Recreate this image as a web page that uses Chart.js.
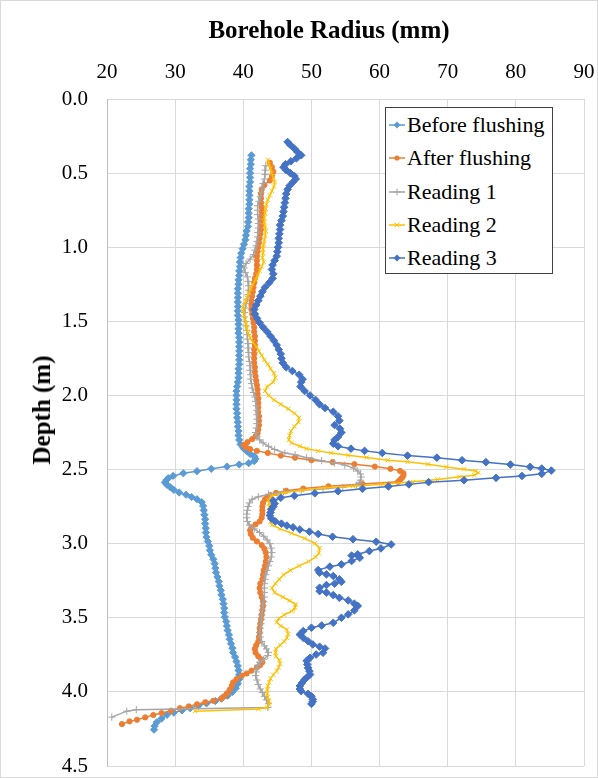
<!DOCTYPE html>
<html>
<head>
<meta charset="utf-8">
<title>Borehole radius profiles</title>
<script src="https://cdn.jsdelivr.net/npm/chart.js@4/dist/chart.umd.min.js"></script>
<style>
  html, body { margin: 0; padding: 0; background: #fff; }
  #wrap { position: relative; width: 598px; height: 778px; overflow: hidden; }
  #chart { position: absolute; left: 0; top: 0; }
  .axis-title {
    position: absolute; font-family: "Liberation Serif", "Times New Roman", serif;
    font-weight: bold; font-size: 25px; line-height: 28px; color: #000; white-space: nowrap;
  }
  #xTitle { left: 329px; top: 16px; transform: translateX(-50%); }
  #yTitle { left: 42px; top: 410px; transform: translate(-50%, -50%) rotate(-90deg); }
  #legend {
    position: absolute; left: 385px; top: 107px; width: 168px; height: 167px;
    box-sizing: border-box; border: 1px solid #404040; background: #fff;
    font-family: "Liberation Serif", "Times New Roman", serif; font-size: 22px; color: #000;
  }
  #legend .item { position: absolute; left: 2px; height: 32px; display: flex; align-items: center; white-space: nowrap; }
  #legend .item svg { margin-right: 1px; flex: none; }
</style>
</head>
<body>
<div id="wrap">
  <canvas id="chart" width="598" height="778"></canvas>
  <div class="axis-title" id="xTitle">Borehole Radius (mm)</div>
  <div class="axis-title" id="yTitle">Depth (m)</div>
  <div id="legend"></div>
</div>
<script>
// Caliper log: [depth (m), radius (mm)] for each survey
const beforeFlushing = [
  [0.38,41.2],[0.41,41.1],[0.44,41.1],[0.47,41.0],[0.50,41.0],[0.53,41.0],[0.56,41.0],[0.59,40.9],[0.62,40.9],[0.65,40.9],
  [0.68,40.9],[0.71,40.9],[0.74,40.8],[0.77,40.8],[0.80,40.8],[0.83,40.7],[0.86,40.7],[0.89,40.5],[0.92,40.4],[0.95,40.3],
  [0.98,40.1],[1.01,39.9],[1.04,39.7],[1.07,39.6],[1.10,39.5],[1.13,39.5],[1.16,39.4],[1.19,39.4],[1.22,39.3],[1.25,39.3],
  [1.28,39.2],[1.31,39.2],[1.34,39.2],[1.37,39.2],[1.40,39.2],[1.43,39.2],[1.46,39.2],[1.49,39.3],[1.52,39.3],[1.55,39.3],
  [1.58,39.3],[1.61,39.4],[1.64,39.4],[1.67,39.4],[1.70,39.4],[1.73,39.4],[1.76,39.4],[1.79,39.4],[1.82,39.3],[1.85,39.3],
  [1.88,39.3],[1.91,39.2],[1.94,39.1],[1.97,39.0],[2.00,39.0],[2.03,39.0],[2.06,39.0],[2.09,39.0],[2.12,39.1],[2.15,39.1],
  [2.18,39.2],[2.21,39.2],[2.24,39.3],[2.27,39.3],[2.30,39.4],[2.33,39.6],[2.355,40.0],[2.375,40.5],[2.395,41.0],[2.41,41.6],
  [2.428,41.8],[2.443,41.6],[2.457,40.8],[2.466,39.4],[2.48,37.6],[2.495,35.3],[2.511,33.2],[2.525,31.2],[2.543,29.7],[2.558,29.0],
  [2.572,28.7],[2.587,28.5],[2.603,28.8],[2.62,29.3],[2.637,29.8],[2.655,30.6],[2.67,31.6],[2.685,32.4],[2.70,33.2],[2.72,33.9],
  [2.745,34.1],[2.775,34.2],[2.805,34.3],[2.835,34.4],[2.865,34.4],[2.895,34.5],[2.925,34.5],[2.955,34.6],[2.985,34.8],[3.015,35.0],
  [3.045,35.1],[3.075,35.3],[3.105,35.6],[3.135,35.8],[3.165,35.9],[3.195,36.0],[3.225,36.2],[3.255,36.4],[3.285,36.5],[3.315,36.7],
  [3.345,36.8],[3.375,37.0],[3.405,37.1],[3.435,37.2],[3.465,37.2],[3.495,37.3],[3.525,37.5],[3.555,37.6],[3.585,37.7],[3.615,37.9],
  [3.645,38.0],[3.675,38.2],[3.705,38.4],[3.735,38.5],[3.765,38.8],[3.795,39.0],[3.825,39.2],[3.855,39.3],[3.885,39.4],[3.915,39.4],
  [3.945,39.2],[3.975,38.9],[4.00,38.4],[4.025,37.7],[4.045,36.8],[4.062,35.9],[4.078,34.6],[4.094,33.4],[4.11,32.2],[4.125,31.0],
  [4.14,29.8],[4.155,28.8],[4.18,28.0],[4.205,27.3],[4.23,27.0],[4.255,26.9]
];

const afterFlushing = [
  [0.43,43.9],[0.46,44.2],[0.49,44.4],[0.52,44.2],[0.55,43.9],[0.58,43.1],[0.61,42.7],[0.64,42.6],[0.67,42.6],[0.70,42.6],
  [0.73,42.7],[0.76,42.7],[0.79,42.7],[0.82,42.7],[0.85,42.6],[0.88,42.6],[0.91,42.5],[0.94,42.4],[0.97,42.3],[1.00,42.2],
  [1.03,42.1],[1.06,42.0],[1.09,42.0],[1.12,42.0],[1.15,42.0],[1.18,41.9],[1.21,41.7],[1.24,41.6],[1.27,41.5],[1.30,41.4],
  [1.33,41.3],[1.36,41.2],[1.39,41.2],[1.42,41.2],[1.45,41.3],[1.48,41.4],[1.51,41.5],[1.54,41.6],[1.57,41.6],[1.60,41.7],
  [1.63,41.7],[1.66,41.7],[1.69,41.6],[1.72,41.6],[1.75,41.6],[1.78,41.6],[1.81,41.7],[1.84,41.7],[1.87,41.8],[1.90,41.9],
  [1.93,42.0],[1.96,42.1],[1.99,42.1],[2.02,42.2],[2.05,42.2],[2.08,42.2],[2.11,42.2],[2.14,42.3],[2.17,42.3],[2.20,42.3],
  [2.23,42.2],[2.255,42.1],[2.275,41.8],[2.295,41.3],[2.315,40.6],[2.335,40.1],[2.35,40.4],[2.362,41.0],[2.374,42.0],[2.388,43.6],
  [2.406,45.5],[2.42,47.6],[2.437,50.0],[2.45,53.1],[2.464,56.3],[2.48,59.3],[2.495,61.6],[2.509,63.0],[2.525,63.5],[2.54,63.5],
  [2.555,63.3],[2.57,63.0],[2.583,62.7],[2.598,57.5],[2.613,52.5],[2.628,48.8],[2.643,46.3],[2.658,44.8],[2.672,44.0],[2.686,43.6],
  [2.70,43.2],[2.725,42.9],[2.75,42.8],[2.775,42.8],[2.80,42.8],[2.825,42.7],[2.85,42.4],[2.87,41.8],[2.89,41.2],[2.91,41.0],
  [2.935,41.1],[2.96,41.4],[2.985,42.0],[3.01,42.7],[3.035,43.1],[3.06,43.3],[3.09,43.4],[3.12,43.3],[3.15,43.2],[3.18,43.0],
  [3.21,42.9],[3.24,42.8],[3.27,42.5],[3.30,42.4],[3.33,42.5],[3.36,42.7],[3.39,42.9],[3.42,42.9],[3.45,42.8],[3.48,42.7],
  [3.51,42.6],[3.54,42.5],[3.57,42.4],[3.60,42.4],[3.63,42.3],[3.66,42.2],[3.685,41.9],[3.71,41.7],[3.735,41.8],[3.76,42.2],
  [3.78,42.6],[3.80,42.8],[3.818,42.5],[3.835,42.0],[3.857,41.2],[3.876,40.5],[3.89,39.8],[3.914,39.0],[3.936,38.5],[3.96,38.3],
  [3.985,38.0],[4.01,37.6],[4.03,37.2],[4.045,36.8],[4.06,35.6],[4.07,34.4],[4.084,33.2],[4.098,32.0],[4.11,30.7],[4.127,29.4],
  [4.143,28.0],[4.156,26.8],[4.172,25.6],[4.188,24.4],[4.199,23.3],[4.217,22.2]
];

const reading1 = [
  [0.45,43.3],[0.48,43.2],[0.51,43.2],[0.54,43.1],[0.57,42.9],[0.60,42.8],[0.63,42.6],[0.66,42.5],[0.69,42.3],[0.72,42.1],
  [0.75,42.1],[0.78,42.1],[0.81,42.2],[0.84,42.2],[0.87,42.2],[0.90,42.1],[0.93,42.1],[0.96,42.0],[0.99,41.9],[1.02,41.7],
  [1.05,41.5],[1.08,41.0],[1.11,40.4],[1.14,40.1],[1.17,40.3],[1.20,40.6],[1.23,40.7],[1.26,40.8],[1.29,40.8],[1.32,40.7],
  [1.35,40.6],[1.38,40.4],[1.41,40.3],[1.44,40.2],[1.47,40.2],[1.50,40.3],[1.53,40.4],[1.56,40.5],[1.59,40.6],[1.62,40.6],
  [1.65,40.7],[1.68,40.7],[1.71,40.8],[1.74,40.8],[1.77,40.9],[1.80,41.0],[1.83,41.0],[1.86,41.1],[1.89,41.1],[1.92,41.2],
  [1.95,41.3],[1.98,41.5],[2.01,41.7],[2.04,41.8],[2.07,41.9],[2.10,42.0],[2.13,42.0],[2.16,42.0],[2.19,42.0],[2.22,41.9],
  [2.25,41.8],[2.275,42.0],[2.30,42.4],[2.32,42.9],[2.343,43.7],[2.365,44.6],[2.388,46.1],[2.40,47.6],[2.42,49.3],[2.44,51.5],
  [2.455,53.4],[2.47,54.9],[2.49,56.2],[2.51,56.8],[2.53,57.2],[2.55,57.3],[2.572,57.2],[2.59,57.0],[2.605,56.6],[2.62,54.6],
  [2.63,51.7],[2.64,48.5],[2.65,45.9],[2.666,43.7],[2.684,42.2],[2.70,41.3],[2.725,40.9],[2.75,40.7],[2.775,40.6],[2.80,40.5],
  [2.825,40.5],[2.85,40.6],[2.875,40.9],[2.90,41.6],[2.925,42.4],[2.95,43.0],[2.975,43.5],[3.00,43.9],[3.03,44.1],[3.06,44.2],
  [3.09,44.1],[3.12,43.9],[3.15,43.7],[3.18,43.5],[3.21,43.3],[3.24,43.2],[3.27,43.1],[3.30,43.1],[3.33,43.1],[3.36,43.1],
  [3.39,43.0],[3.42,42.9],[3.45,42.8],[3.48,42.7],[3.51,42.7],[3.54,42.6],[3.57,42.5],[3.60,42.4],[3.63,42.5],[3.66,42.7],
  [3.69,43.1],[3.71,43.4],[3.733,43.7],[3.755,43.6],[3.78,43.0],[3.80,42.4],[3.82,42.1],[3.84,42.0],[3.865,41.9],[3.89,41.8],
  [3.92,42.0],[3.95,42.2],[3.98,42.5],[4.005,42.8],[4.03,43.1],[4.055,43.4],[4.08,43.7],[4.105,43.6],[4.12,24.3],[4.13,22.9],
  [4.17,20.7]
];

const reading2 = [
  [0.41,43.6],[0.44,43.8],[0.47,44.0],[0.50,44.2],[0.53,44.4],[0.56,44.6],[0.59,44.5],[0.62,44.2],[0.65,43.9],[0.68,43.6],
  [0.71,43.4],[0.74,43.3],[0.77,43.2],[0.80,43.1],[0.83,43.1],[0.86,43.2],[0.89,43.3],[0.92,43.2],[0.95,43.1],[0.98,43.0],
  [1.01,42.9],[1.04,42.9],[1.07,42.8],[1.10,43.0],[1.13,42.7],[1.16,42.4],[1.19,42.1],[1.22,41.8],[1.25,41.4],[1.28,41.1],
  [1.31,40.8],[1.34,40.5],[1.37,40.3],[1.40,40.0],[1.43,40.0],[1.46,40.1],[1.49,40.3],[1.52,40.4],[1.55,40.5],[1.58,40.7],
  [1.61,41.0],[1.64,41.4],[1.67,41.9],[1.70,42.3],[1.73,42.7],[1.76,43.1],[1.79,43.6],[1.82,44.0],[1.85,44.5],[1.88,44.7],
  [1.91,44.4],[1.94,43.5],[1.97,43.2],[2.00,43.7],[2.03,44.5],[2.06,45.5],[2.09,46.6],[2.12,47.5],[2.15,48.2],[2.18,48.1],
  [2.21,47.5],[2.24,47.0],[2.27,46.8],[2.30,46.7],[2.32,47.1],[2.343,48.3],[2.359,49.3],[2.374,51.0],[2.388,52.9],[2.404,55.4],
  [2.419,58.1],[2.437,61.2],[2.448,64.1],[2.464,67.1],[2.482,69.8],[2.498,72.4],[2.509,74.1],[2.522,74.5],[2.538,73.9],[2.549,71.7],
  [2.567,68.5],[2.583,64.9],[2.599,60.5],[2.612,56.1],[2.623,52.0],[2.639,48.5],[2.657,45.9],[2.677,44.1],[2.706,43.7],[2.73,43.8],
  [2.75,43.8],[2.775,43.9],[2.80,43.9],[2.825,43.9],[2.85,44.0],[2.874,44.2],[2.90,45.4],[2.93,47.1],[2.964,49.0],[2.998,50.5],
  [3.03,51.2],[3.065,51.1],[3.09,50.6],[3.12,49.6],[3.15,48.2],[3.18,46.9],[3.21,45.9],[3.24,45.3],[3.27,44.7],[3.30,44.2],
  [3.33,44.6],[3.36,45.8],[3.385,46.8],[3.41,47.7],[3.43,47.6],[3.455,47.1],[3.48,46.0],[3.505,45.2],[3.53,44.9],[3.555,45.5],
  [3.58,46.4],[3.61,46.6],[3.635,46.4],[3.66,46.0],[3.685,45.4],[3.71,44.8],[3.735,44.7],[3.76,44.8],[3.785,45.3],[3.81,45.4],
  [3.835,45.2],[3.86,44.9],[3.885,44.4],[3.91,44.0],[3.935,43.8],[3.96,43.6],[3.985,43.5],[4.01,43.5],[4.035,43.6],[4.06,43.8],
  [4.085,43.8],[4.105,43.5],[4.115,42.2],[4.13,32.9]
];

const reading3 = [
  [0.29,46.5],[0.31,46.9],[0.335,47.5],[0.36,48.0],[0.38,48.5],[0.40,47.8],[0.42,47.0],[0.44,46.2],[0.46,45.9],[0.48,46.3],
  [0.50,46.9],[0.52,47.5],[0.54,47.7],[0.56,47.3],[0.585,46.8],[0.61,46.5],[0.64,46.3],[0.67,46.2],[0.70,46.1],[0.73,46.0],
  [0.76,45.9],[0.79,45.8],[0.82,45.6],[0.85,45.4],[0.88,45.4],[0.91,45.3],[0.94,45.2],[0.97,45.2],[1.00,45.1],[1.03,45.0],
  [1.06,44.9],[1.09,44.6],[1.12,44.3],[1.15,44.2],[1.18,44.4],[1.21,44.3],[1.24,43.8],[1.27,43.2],[1.30,42.8],[1.33,42.5],
  [1.36,42.2],[1.39,41.9],[1.42,41.6],[1.45,41.7],[1.48,42.0],[1.51,42.4],[1.54,42.9],[1.57,43.5],[1.60,44.0],[1.63,44.5],
  [1.66,44.9],[1.69,45.2],[1.72,45.5],[1.75,45.6],[1.78,45.8],[1.81,46.3],[1.835,47.2],[1.86,48.2],[1.89,48.7],[1.91,48.5],
  [1.94,48.4],[1.97,49.0],[2.00,49.8],[2.03,50.6],[2.06,51.2],[2.085,52.0],[2.11,53.2],[2.14,53.9],[2.17,54.1],[2.20,53.4],
  [2.225,54.2],[2.25,54.4],[2.28,53.9],[2.30,53.4],[2.325,53.2],[2.343,53.9],[2.359,55.8],[2.374,57.8],[2.388,60.4],[2.406,64.1],
  [2.42,68.4],[2.437,72.1],[2.45,75.6],[2.466,79.2],[2.482,82.1],[2.493,83.8],[2.507,85.2],[2.529,83.8],[2.543,80.9],[2.556,77.1],
  [2.572,72.4],[2.585,67.2],[2.60,64.3],[2.614,61.3],[2.63,57.5],[2.646,53.9],[2.66,50.5],[2.677,47.5],[2.69,45.5],[2.71,44.4],
  [2.73,44.6],[2.75,44.4],[2.77,44.1],[2.79,44.0],[2.81,43.9],[2.83,44.1],[2.85,44.7],[2.865,45.6],[2.878,46.4],[2.89,47.3],
  [2.904,48.3],[2.919,49.7],[2.935,51.0],[2.953,53.1],[2.97,56.1],[2.987,59.5],[3.005,61.7],[3.032,60.2],[3.05,58.5],[3.072,56.8],
  [3.08,55.9],[3.095,57.1],[3.117,55.9],[3.14,54.4],[3.155,52.7],[3.178,51.0],[3.196,51.2],[3.207,52.2],[3.218,53.2],[3.24,54.1],
  [3.257,54.4],[3.27,53.4],[3.279,52.2],[3.297,51.2],[3.32,51.2],[3.33,52.2],[3.347,53.2],[3.365,54.1],[3.383,55.4],[3.405,56.3],
  [3.42,56.8],[3.45,56.3],[3.477,55.4],[3.50,54.4],[3.534,53.2],[3.552,51.5],[3.567,50.0],[3.59,48.8],[3.613,48.3],[3.635,48.8],
  [3.658,49.5],[3.68,50.2],[3.695,51.2],[3.707,52.0],[3.736,51.7],[3.748,50.7],[3.77,49.8],[3.79,49.3],[3.815,49.4],[3.838,49.5],
  [3.86,49.7],[3.883,49.8],[3.90,49.4],[3.917,49.0],[3.94,48.6],[3.96,48.3],[3.98,48.3],[3.995,48.5],[4.013,49.5],[4.03,50.0],
  [4.05,50.2],[4.065,50.2],[4.081,50.0]
];

const seriesNames = ['Before flushing', 'After flushing', 'Reading 1', 'Reading 2', 'Reading 3'];
const seriesData = [beforeFlushing, afterFlushing, reading1, reading2, reading3];
const radiusTicks = [20, 30, 40, 50, 60, 70, 80, 90];
const depthTicks = [0.0, 0.5, 1.0, 1.5, 2.0, 2.5, 3.0, 3.5, 4.0, 4.5];

// Series styling
const seriesColors = ['#5B9BD5', '#ED7D31', '#A5A5A5', '#FFC000', '#4472C4'];
const markerStyles = ['rectRot', 'circle', 'cross', 'crossRot', 'rectRot'];
const markerRadii = [3.6, 2.6, 3.6, 3.0, 3.8];

const axisFont = { family: '"Liberation Serif", "Times New Roman", serif', size: 21 };

const datasets = seriesData.map((rows, i) => ({
  label: seriesNames[i],
  data: rows.map(([depth, radius]) => ({ x: radius, y: depth })),
  showLine: true,
  borderColor: seriesColors[i],
  backgroundColor: seriesColors[i],
  borderWidth: 1.5,
  pointStyle: markerStyles[i],
  pointRadius: markerRadii[i],
  pointBorderWidth: 1,
  pointBackgroundColor: seriesColors[i],
  pointBorderColor: seriesColors[i],
  tension: 0,
  order: seriesData.length - i
}));

// white fill and thin outline around the whole chart
const chartFrame = {
  id: 'chartFrame',
  beforeDraw(chart) {
    const { ctx, width, height } = chart;
    ctx.save();
    ctx.fillStyle = '#ffffff';
    ctx.fillRect(0, 0, width, height);
    ctx.strokeStyle = '#D9D9D9';
    ctx.lineWidth = 1;
    ctx.strokeRect(0.5, 0.5, width - 1, height - 1);
    ctx.restore();
  }
};

new Chart(document.getElementById('chart'), {
  type: 'scatter',
  data: { datasets },
  plugins: [chartFrame],
  options: {
    responsive: false,
    devicePixelRatio: 1,
    animation: false,
    layout: { padding: { left: 0, top: 0, right: 14, bottom: 12 } },
    plugins: { legend: { display: false }, tooltip: { enabled: false } },
    scales: {
      x: {
        type: 'linear',
        position: 'top',
        min: radiusTicks[0],
        max: radiusTicks[radiusTicks.length - 1],
        afterBuildTicks: (s) => { s.ticks = radiusTicks.map(v => ({ value: v })); },
        afterFit: (s) => { s.height = 99; s.paddingLeft = 0; s.paddingRight = 0; },
        ticks: { font: axisFont, color: '#000', padding: 14, maxRotation: 0, autoSkip: false },
        grid: { color: '#D9D9D9', lineWidth: 1, drawTicks: false },
        border: { display: true, color: '#D9D9D9' },
        title: { display: false }
      },
      y: {
        type: 'linear',
        reverse: true,
        min: depthTicks[0],
        max: depthTicks[depthTicks.length - 1],
        afterBuildTicks: (s) => { s.ticks = depthTicks.map(v => ({ value: v })); },
        afterFit: (s) => { s.width = 107; s.paddingTop = 0; s.paddingBottom = 0; },
        ticks: { font: axisFont, color: '#000', padding: 19, autoSkip: false, callback: (v) => Number(v).toFixed(1) },
        grid: { color: '#D9D9D9', lineWidth: 1, drawTicks: false },
        border: { display: true, color: '#BFBFBF' },
        title: { display: false }
      }
    }
  }
});

// Legend: line sample with the series marker, then the series name
function markerSvg(i) {
  const c = seriesColors[i];
  let shape = '';
  switch (markerStyles[i]) {
    case 'rectRot': shape = `<polygon points="9,1.5 12.5,5 9,8.5 5.5,5" fill="${c}"/>`; break;
    case 'circle': shape = `<circle cx="9" cy="5" r="2.6" fill="${c}"/>`; break;
    case 'cross': shape = `<path d="M9 1.5V8.5M5.5 5H12.5" stroke="${c}" stroke-width="1"/>`; break;
    case 'crossRot': shape = `<path d="M6.6 2.6L11.4 7.4M11.4 2.6L6.6 7.4" stroke="${c}" stroke-width="1"/>`; break;
  }
  return `<svg width="18" height="10" viewBox="0 0 18 10"><line x1="1" y1="5" x2="17" y2="5" stroke="${c}" stroke-width="1.5"/>${shape}</svg>`;
}
const legendBox = document.getElementById('legend');
seriesNames.forEach((name, i) => {
  const row = document.createElement('div');
  row.className = 'item';
  row.style.top = (1 + i * 33.3) + 'px';
  row.innerHTML = markerSvg(i) + '<span>' + name + '</span>';
  legendBox.appendChild(row);
});
</script>
</body>
</html>
